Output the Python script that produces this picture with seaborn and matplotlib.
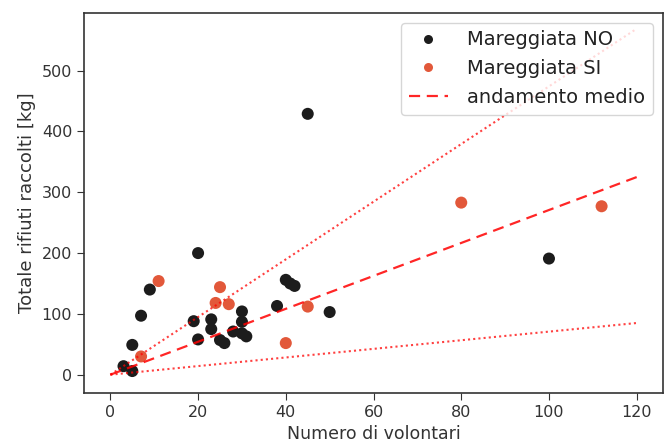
import matplotlib
matplotlib.use("Agg")
import matplotlib.pyplot as plt
import seaborn as sns
import pandas as pd

# --- data ---
volontari_no = [45, 20, 9, 7, 5, 3, 5, 19, 20, 23, 23, 25, 26, 28, 30, 30, 30, 31, 38, 40, 41, 42, 50, 100]
rifiuti_no = [429, 200, 140, 97, 49, 14, 6, 88, 58, 91, 75, 57, 52, 71, 104, 87, 68, 63, 113, 156, 150, 146, 103, 191]
volontari_si = [11, 7, 25, 24, 27, 40, 45, 80, 112]
rifiuti_si = [154, 30, 144, 118, 116, 52, 112, 283, 277]

trend_x = [0, 120]
trend_mean = [0, 325]
trend_high = [0, 569]
trend_low = [0, 85]

labels = ["Mareggiata NO", "Mareggiata SI"]

df = pd.DataFrame({
    "volontari": volontari_no + volontari_si,
    "rifiuti": rifiuti_no + rifiuti_si,
    "Mareggiata": [labels[0]] * len(volontari_no) + [labels[1]] * len(volontari_si),
})

sns.set_style("ticks")
plt.rcParams["font.family"] = ["DejaVu Sans"]

fig = plt.figure(figsize=(6.67, 4.45), dpi=100)
ax = fig.add_axes([0.126, 0.117, 0.868, 0.854])

sns.scatterplot(data=df, x="volontari", y="rifiuti", hue="Mareggiata",
                palette={labels[0]: "#1c1c1c", labels[1]: "#e2583a"},
                s=75, edgecolor="none", ax=ax)

sns.lineplot(x=trend_x, y=trend_mean, color="red", linestyle=(0, (5, 3)), linewidth=1.6,
             label="andamento medio", ax=ax, alpha=0.85)
sns.lineplot(x=trend_x, y=trend_high, color="red", linestyle=(0, (1, 1.5)), linewidth=1.5,
             ax=ax, alpha=0.75)
sns.lineplot(x=trend_x, y=trend_low, color="red", linestyle=(0, (1, 1.5)), linewidth=1.5,
             ax=ax, alpha=0.75)

ax.set_xlabel("Numero di volontari", fontsize=12.5, color="#333333")
ax.set_ylabel("Totale rifiuti raccolti [kg]", fontsize=13, color="#333333")
ax.set_xticks([0, 20, 40, 60, 80, 100, 120])
ax.set_yticks([0, 100, 200, 300, 400, 500])
ax.tick_params(labelsize=11.5, colors="#333333", length=5)
ax.set_xlim(-6, 126)
ax.set_ylim(-30, 595)
for sp in ax.spines.values():
    sp.set_visible(True)
    sp.set_color("#333333")
    sp.set_linewidth(1.2)

leg = ax.legend(loc="upper right", fontsize=14, title=None, markerscale=0.75,
                handletextpad=1.0, borderpad=0.4, labelspacing=0.5)
for t in leg.get_texts():
    t.set_color("#222222")

fig.savefig("out.png", dpi=100)
